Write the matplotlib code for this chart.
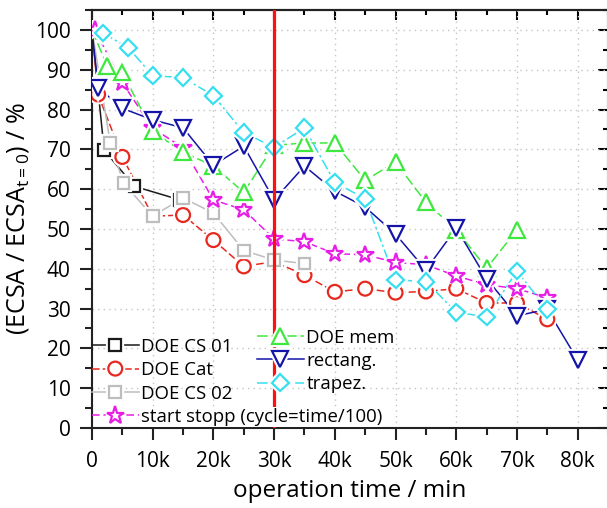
import matplotlib
matplotlib.use('Agg')
import matplotlib.pyplot as plt
import matplotlib.patheffects as pe
from matplotlib.ticker import MultipleLocator
from matplotlib.legend_handler import HandlerTuple

plt.rcParams['font.family'] = ['Open Sans', 'DejaVu Sans']
plt.rcParams['mathtext.default'] = 'regular'

# ECSA loss vs operation time
t_cs01 = [0, 2000, 7000, 14500]
ecsa_cs01 = [100, 69.8, 60.7, 57.3]

t_cat = [0, 1000, 5000, 10000, 15000, 20000, 25000, 30000, 35000, 40000,
         45000, 50000, 55000, 60000, 65000, 70000, 75000]
ecsa_cat = [100, 83.8, 68.1, 53.2, 53.5, 47.2, 40.6, 41.8, 38.4, 34.2,
            35.0, 34.0, 34.3, 35.0, 31.4, 31.4, 27.3]

t_cs02 = [0, 3000, 5200, 10000, 15000, 20000, 25000, 30000, 35000]
ecsa_cs02 = [100, 71.6, 61.5, 53.2, 57.8, 54.0, 44.6, 42.2, 41.3]

t_ss = [500, 5000, 10000, 15000, 20000, 25000, 30000, 35000, 40000, 45000,
        50000, 55000, 60000, 65000, 70000, 75000]
ecsa_ss = [100, 86.7, 75.3, 70.4, 57.3, 54.8, 47.5, 46.8, 43.8, 43.5,
           41.6, 41.0, 38.2, 36.0, 35.0, 32.7]

t_mem = [0, 2500, 5000, 10000, 15000, 20000, 25000, 30000, 35000, 40000,
         45000, 50000, 55000, 60000, 65000, 70000]
ecsa_mem = [100, 91.0, 89.3, 74.5, 69.3, 65.8, 59.2, 71.0, 71.6, 71.6,
            62.2, 66.8, 56.7, 49.8, 40.1, 49.8]

t_rect = [0, 1000, 5000, 10000, 15000, 20000, 25000, 30000, 35000, 40000,
          45000, 50000, 55000, 60000, 65000, 70000, 75000, 80000]
ecsa_rect = [100, 85.5, 80.3, 77.4, 75.4, 66.0, 70.8, 57.3, 65.8, 59.5,
             55.5, 48.7, 39.7, 50.2, 37.5, 28.2, 29.8, 17.1]

t_trap = [1800, 6000, 10000, 15000, 20000, 25000, 30000, 35000, 40000,
          45000, 50000, 55000, 60000, 65000, 70000, 75000]
ecsa_trap = [99.2, 95.5, 88.5, 88.0, 83.5, 74.2, 70.5, 75.4, 61.7,
             57.6, 37.2, 36.8, 29.1, 27.9, 39.4, 29.8]

xticks = [0, 10000, 20000, 30000, 40000, 50000, 60000, 70000, 80000]
xtick_labels = ['0', '10k', '20k', '30k', '40k', '50k', '60k', '70k', '80k']
yticks = [0, 10, 20, 30, 40, 50, 60, 70, 80, 90, 100]
t_marker = 30000

# label, x, y, color, marker, markersize, linestyle, skip first marker
series = [
    ('DOE CS 01', t_cs01, ecsa_cs01, '#1a1a1a', 's', 8.5, '-', True),
    ('DOE Cat', t_cat, ecsa_cat, '#e8281e', 'o', 10, (0, (5, 2)), True),
    ('DOE CS 02', t_cs02, ecsa_cs02, '#bdbdbd', 's', 8.5, '-', True),
    ('start stopp (cycle=time/100)', t_ss, ecsa_ss, '#e61ee6', '*', 13, (0, (5, 2.5)), False),
    ('DOE mem', t_mem, ecsa_mem, '#3ee83e', '^', 11.5, (0, (7, 2.5)), True),
    ('rectang.', t_rect, ecsa_rect, '#1414a8', 'v', 11.5, '-', True),
    ('trapez.', t_trap, ecsa_trap, '#36dff0', 'D', 8.5, (0, (7, 2, 1.5, 2)), False),
]

fig = plt.figure(figsize=(6.07, 5.08), dpi=100)
ax = fig.add_axes([92 / 607, 80 / 508, 516 / 607, 418 / 508])

handles = []
for label, x, y, c, m, ms, ls, skip in series:
    ln, = ax.plot(x, y, ls=ls, color=c, lw=1.1, zorder=2)
    every = slice(1, None) if skip else None
    mk, = ax.plot(x, y, ls='none', marker=m, ms=ms, mfc='white', mec=c, mew=1.6,
                  markevery=every, zorder=3,
                  path_effects=[pe.Stroke(linewidth=4.5, foreground='white'), pe.Normal()])
    handles.append((ln, mk))

ax.axvline(t_marker, color='#ff1010', lw=2.3, zorder=4.5)

ax.set_xlim(0, 85000)
ax.set_ylim(0, 105)
ax.set_xticks(xticks, xtick_labels)
ax.set_yticks(yticks)
ax.xaxis.set_minor_locator(MultipleLocator(5000))
ax.yaxis.set_minor_locator(MultipleLocator(5))
ax.grid(True, which='major', ls=(0, (1, 3)), color='#c4c4c4', lw=1.0)
ax.set_axisbelow(True)

for s in ax.spines.values():
    s.set_linewidth(1.5)
    s.set_color('#222222')

ax.tick_params(which='major', direction='out', length=8.5, width=1.5, color='#222222',
               labelsize=15, pad=8)
ax.tick_params(which='minor', direction='out', length=5, width=1.5, color='#222222')
ax.tick_params(axis='y', which='major', pad=7)

secx = ax.secondary_xaxis('top')
secx.xaxis.set_major_locator(MultipleLocator(10000))
secx.xaxis.set_minor_locator(MultipleLocator(5000))
secx.tick_params(which='major', direction='in', length=7, width=1.5, labeltop=False)
secx.tick_params(which='minor', direction='in', length=3.5, width=1.5)
secx.spines['top'].set_linewidth(1.5)

secy = ax.secondary_yaxis('right')
secy.yaxis.set_major_locator(MultipleLocator(10))
secy.yaxis.set_minor_locator(MultipleLocator(5))
secy.tick_params(which='major', direction='in', length=7, width=1.5, labelright=False)
secy.tick_params(which='minor', direction='in', length=3.5, width=1.5)

ax.set_xlabel('operation time / min', fontsize=17.5, labelpad=5)
ax.set_ylabel('(ECSA / ECSA$_{t=0}$) / %', fontsize=18, labelpad=3)

leg_kw = dict(frameon=False, fontsize=13.4, handlelength=2.5, handletextpad=0.15,
              labelspacing=0.29, borderpad=0.0, borderaxespad=0.0,
              handler_map={tuple: HandlerTuple(ndivide=1, pad=0)})
leg1 = ax.legend([handles[i] for i in range(4)], [series[i][0] for i in range(4)],
                 loc='lower left', bbox_to_anchor=(0.0, 0.005), **leg_kw)
leg1.get_texts()[3].set_bbox(dict(facecolor='white', edgecolor='none', pad=0.5))
ax.add_artist(leg1)
ax.legend([handles[i] for i in range(4, 7)], [series[i][0] for i in range(4, 7)],
          loc='upper left', bbox_to_anchor=(0.32, 0.238), **leg_kw)

fig.savefig('out.png', dpi=100)
